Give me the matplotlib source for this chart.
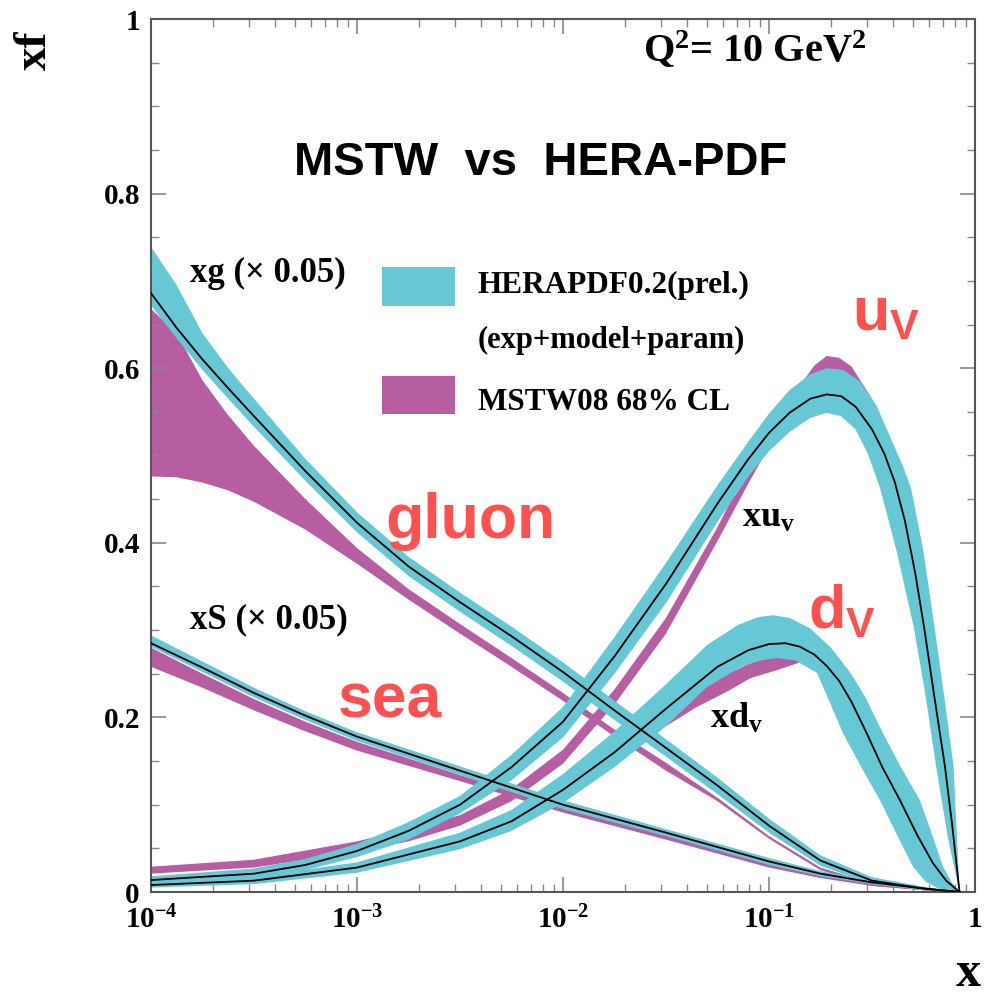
import matplotlib
matplotlib.use("Agg")
import matplotlib.pyplot as plt
from matplotlib.patches import Rectangle
import numpy as np

plt.rcParams["font.family"] = ["Liberation Serif", "DejaVu Serif"]
plt.rcParams["font.weight"] = "bold"
plt.rcParams["mathtext.fontset"] = "custom"
plt.rcParams["mathtext.rm"] = "Liberation Serif:bold"
plt.rcParams["mathtext.it"] = "Liberation Serif:bold"
plt.rcParams["mathtext.bf"] = "Liberation Serif:bold"
plt.rcParams["mathtext.sf"] = "Liberation Sans:bold"
plt.rcParams["mathtext.default"] = "rm"

# ---- data: log10(x) grids and xf values ----
# gluon (x 0.05)
g_logx = [-4, -3.875, -3.75, -3.625, -3.5, -3.25, -3, -2.75, -2.5, -2.25, -2, -1.75, -1.5, -1.25, -1,
          -0.75, -0.5, -0.25, -0.075]
g_hera = [0.686, 0.646, 0.610, 0.577, 0.545, 0.482, 0.423, 0.373, 0.332, 0.293, 0.252, 0.208, 0.165, 0.122, 0.076,
          0.036, 0.013, 0.004, 0.0]
g_hera_hi = [0.739, 0.695, 0.640, 0.600, 0.565, 0.496, 0.435, 0.384, 0.343, 0.304, 0.263, 0.219, 0.175, 0.131, 0.084,
             0.042, 0.017, 0.006, 0.0]
g_hera_lo = [0.672, 0.634, 0.598, 0.565, 0.533, 0.471, 0.412, 0.362, 0.321, 0.282, 0.241, 0.197, 0.155, 0.112, 0.068,
             0.030, 0.009, 0.002, 0.0]
g_mstw_hi = [0.668, 0.640, 0.586, 0.546, 0.511, 0.450, 0.394, 0.347, 0.307, 0.268, 0.228, 0.186, 0.148, 0.108, 0.064,
             0.028, 0.010, 0.003, 0.0]
g_mstw_lo = [0.476, 0.475, 0.469, 0.460, 0.447, 0.415, 0.376, 0.335, 0.296, 0.258, 0.219, 0.178, 0.139, 0.104, 0.061,
             0.025, 0.007, 0.002, 0.0]

# sea (x 0.05)
s_logx = [-4, -3.75, -3.5, -3.25, -3, -2.5, -2, -1.5, -1, -0.75, -0.5, -0.25, -0.075]
s_hera = [0.285, 0.257, 0.228, 0.202, 0.178, 0.139, 0.100, 0.068, 0.035, 0.021, 0.011, 0.004, 0.0]
s_hera_hi = [0.294, 0.264, 0.234, 0.207, 0.183, 0.144, 0.105, 0.072, 0.039, 0.024, 0.013, 0.005, 0.0]
s_hera_lo = [0.281, 0.252, 0.223, 0.197, 0.173, 0.134, 0.095, 0.064, 0.031, 0.018, 0.009, 0.003, 0.0]
s_mstw_hi = [0.280, 0.250, 0.221, 0.195, 0.172, 0.134, 0.097, 0.066, 0.033, 0.020, 0.010, 0.003, 0.0]
s_mstw_lo = [0.258, 0.234, 0.208, 0.184, 0.162, 0.127, 0.091, 0.060, 0.028, 0.016, 0.007, 0.002, 0.0]

# u valence
u_logx = [-4, -3.5, -3.25, -3, -2.75, -2.5, -2.25, -2, -1.75, -1.5, -1.25, -1.1, -1.0, -0.9, -0.8, -0.72,
          -0.65, -0.58, -0.5, -0.44, -0.39, -0.34, -0.29, -0.247, -0.2, -0.146, -0.11, -0.075]
u_hera = [0.0137, 0.021, 0.031, 0.047, 0.070, 0.100, 0.143, 0.195, 0.270, 0.353, 0.445, 0.496, 0.526, 0.549, 0.565, 0.570,
          0.568, 0.556, 0.530, 0.502, 0.470, 0.425, 0.365, 0.303, 0.228, 0.144, 0.075, 0.0]
# outer edge (above on the rise, right of the line on the fall)
u_out_logx = [-4, -3.5, -3.25, -3, -2.75, -2.5, -2.25, -2, -1.75, -1.5, -1.25, -1.1, -1.0, -0.9, -0.8, -0.72,
              -0.64, -0.56, -0.48, -0.4, -0.35, -0.31, -0.25, -0.196, -0.15, -0.104, -0.075]
u_out = [0.018, 0.027, 0.038, 0.055, 0.080, 0.110, 0.157, 0.212, 0.292, 0.377, 0.466, 0.516, 0.548, 0.575, 0.593, 0.600,
         0.598, 0.585, 0.558, 0.515, 0.488, 0.462, 0.390, 0.303, 0.225, 0.144, 0.0]
# inner edge (below on the rise, left of the line on the fall)
u_in_logx = [-4, -3.5, -3.25, -3, -2.75, -2.5, -2.25, -2, -1.75, -1.5, -1.25, -1.1, -1.0, -0.9, -0.8, -0.72,
             -0.65, -0.58, -0.52, -0.46, -0.38, -0.297, -0.24, -0.189, -0.13, -0.075]
u_in = [0.009, 0.016, 0.025, 0.040, 0.060, 0.090, 0.128, 0.177, 0.250, 0.331, 0.424, 0.476, 0.505, 0.527, 0.543, 0.549,
        0.545, 0.530, 0.502, 0.462, 0.390, 0.303, 0.225, 0.144, 0.060, 0.0]
um_logx = [-4, -3.5, -3, -2.75, -2.5, -2.25, -2, -1.75, -1.5, -1.25, -1.1, -1.0, -0.85, -0.78, -0.72, -0.66,
           -0.6, -0.5, -0.4, -0.3, -0.2, -0.12, -0.075]
u_mstw_hi = [0.029, 0.037, 0.058, 0.072, 0.088, 0.118, 0.163, 0.232, 0.314, 0.418, 0.488, 0.530, 0.580, 0.603, 0.614,
             0.612, 0.602, 0.565, 0.505, 0.420, 0.260, 0.110, 0.0]
u_mstw_lo = [0.021, 0.028, 0.046, 0.058, 0.076, 0.104, 0.147, 0.215, 0.296, 0.402, 0.468, 0.510, 0.550, 0.563, 0.570,
             0.568, 0.560, 0.525, 0.460, 0.360, 0.200, 0.070, 0.0]

# d valence
d_logx = [-4, -3.5, -3, -2.5, -2.25, -2, -1.75, -1.5, -1.25, -1.1, -1.0, -0.92, -0.85, -0.78, -0.72, -0.66,
          -0.6, -0.526, -0.45, -0.364, -0.28, -0.204, -0.14, -0.075]
d_hera = [0.008, 0.013, 0.028, 0.058, 0.081, 0.117, 0.160, 0.210, 0.258, 0.277, 0.284, 0.285, 0.281, 0.272, 0.259, 0.242,
          0.218, 0.182, 0.143, 0.105, 0.065, 0.033, 0.013, 0.0]
d_out_logx = [-4, -3.5, -3, -2.5, -2.25, -2, -1.75, -1.5, -1.3, -1.15, -1.05, -0.98, -0.9, -0.8, -0.7, -0.604,
              -0.53, -0.447, -0.36, -0.267, -0.2, -0.155, -0.11, -0.075]
d_out = [0.011, 0.017, 0.034, 0.068, 0.094, 0.135, 0.184, 0.238, 0.283, 0.306, 0.315, 0.317, 0.314, 0.302, 0.280, 0.251,
         0.222, 0.182, 0.143, 0.105, 0.060, 0.029, 0.010, 0.0]
d_in_logx = [-4, -3.5, -3, -2.5, -2.25, -2, -1.75, -1.5, -1.3, -1.15, -1.05, -0.96, -0.87, -0.767, -0.71, -0.641,
             -0.55, -0.461, -0.38, -0.301, -0.24, -0.17, -0.075]
d_in = [0.005, 0.009, 0.022, 0.049, 0.070, 0.102, 0.143, 0.190, 0.235, 0.256, 0.265, 0.268, 0.265, 0.251, 0.220, 0.182,
        0.142, 0.105, 0.066, 0.029, 0.012, 0.003, 0.0]
dm_logx = [-4, -3, -2.5, -2, -1.75, -1.5, -1.35, -1.2, -1.09, -0.95, -0.85, -0.75, -0.6, -0.45, -0.3, -0.2, -0.075]
d_mstw_hi = [0.009, 0.027, 0.056, 0.112, 0.155, 0.200, 0.228, 0.250, 0.262, 0.272, 0.271, 0.262, 0.215, 0.140, 0.065, 0.030, 0.0]
d_mstw_lo = [0.006, 0.023, 0.050, 0.104, 0.146, 0.190, 0.212, 0.230, 0.245, 0.255, 0.263, 0.250, 0.205, 0.130, 0.058, 0.025, 0.0]

x_ticks = [1e-4, 1e-3, 1e-2, 1e-1, 1]
x_ticklabels = [r"10$^{-4}$", r"10$^{-3}$", r"10$^{-2}$", r"10$^{-1}$", "1"]
y_ticks = [0, 0.2, 0.4, 0.6, 0.8, 1]
y_ticklabels = ["0", "0.2", "0.4", "0.6", "0.8", "1"]

HERA_C = "#66c8d4"
MSTW_C = "#b75da2"
RED = "#ff5050"


def band(ax, lx1, v1, lx2, v2, color, z):
    xs = np.concatenate([10 ** np.array(lx1, float), 10 ** np.array(lx2, float)[::-1]])
    ys = np.concatenate([np.array(v1, float), np.array(v2, float)[::-1]])
    ax.fill(xs, ys, color=color, lw=0, zorder=z)


W, H = 986, 996
fig = plt.figure(figsize=(W / 100, H / 100), dpi=100)
ax = fig.add_axes([151 / W, 1 - 892 / H, (975 - 151) / W, (892 - 19) / H])
ax.set_xscale("log")
ax.set_xlim(1e-4, 1)
ax.set_ylim(0, 1)

# MSTW bands underneath
band(ax, g_logx, g_mstw_hi, g_logx, g_mstw_lo, MSTW_C, 1)
band(ax, s_logx, s_mstw_hi, s_logx, s_mstw_lo, MSTW_C, 1)
band(ax, um_logx, u_mstw_hi, um_logx, u_mstw_lo, MSTW_C, 1)
band(ax, dm_logx, d_mstw_hi, dm_logx, d_mstw_lo, MSTW_C, 1)

# HERA bands on top
band(ax, g_logx, g_hera_hi, g_logx, g_hera_lo, HERA_C, 2)
band(ax, s_logx, s_hera_hi, s_logx, s_hera_lo, HERA_C, 2)
band(ax, u_out_logx, u_out, u_in_logx, u_in, HERA_C, 2)
band(ax, d_out_logx, d_out, d_in_logx, d_in, HERA_C, 2)

for lx, v in [(g_logx, g_hera), (s_logx, s_hera), (u_logx, u_hera), (d_logx, d_hera)]:
    ax.plot(10 ** np.array(lx, float), v, color="black", lw=1.3, zorder=3)

# axes styling
for sp in ax.spines.values():
    sp.set_color("#555555")
    sp.set_linewidth(1.5)
ax.set_xticks(x_ticks)
ax.set_xticklabels(x_ticklabels)
ax.xaxis.set_minor_locator(matplotlib.ticker.LogLocator(base=10, subs=np.arange(2, 10)))
ax.xaxis.set_minor_formatter(matplotlib.ticker.NullFormatter())
ax.set_yticks(y_ticks)
ax.set_yticklabels(y_ticklabels)
ax.yaxis.set_minor_locator(matplotlib.ticker.MultipleLocator(0.05))
ax.tick_params(which="both", direction="in", top=True, right=True, color="#888888", labelsize=21)
ax.tick_params(which="major", length=11, width=1.2)
ax.tick_params(which="minor", length=5.5, width=1.0)
ax.tick_params(axis="y", pad=8)
ax.tick_params(axis="x", pad=10)


def ftext(px, py, s, **kw):
    fig.text(px / W, 1 - py / H, s, **kw)


# legend
ax.add_patch(Rectangle((382 / W, 1 - 306 / H), 73 / W, 39 / H, transform=fig.transFigure,
                       color=HERA_C, lw=0, zorder=5))
ax.add_patch(Rectangle((382 / W, 1 - 414 / H), 73 / W, 38 / H, transform=fig.transFigure,
                       color=MSTW_C, lw=0, zorder=5))
ftext(478, 293, "HERAPDF0.2(prel.)", fontsize=22.5, va="baseline")
ftext(478, 348, "(exp+model+param)", fontsize=22, va="baseline")
ftext(478, 410, "MSTW08 68% CL", fontsize=22.5, va="baseline")

# labels
ftext(541, 175, "MSTW  vs  HERA-PDF", fontsize=34, family="Liberation Sans",
      fontweight="bold", ha="center", va="baseline")
ftext(643, 62, r"Q$^2$= 10 GeV$^2$", fontsize=29, va="baseline")
ftext(190, 282, "xg (\u00d7 0.05)", fontsize=25, va="baseline")
ftext(190, 628, "xS (\u00d7 0.05)", fontsize=25, va="baseline")
ftext(742, 527, r"xu$_{\rm v}$", fontsize=26, va="baseline")
ftext(710, 728, r"xd$_{\rm v}$", fontsize=26, va="baseline")
ftext(385, 538, "gluon", fontsize=45, color=RED, family="Liberation Sans",
      fontweight="bold", va="baseline")
ftext(338, 718, "sea", fontsize=45, color=RED, family="Liberation Sans",
      fontweight="bold", va="baseline")
ftext(852, 330, r"$\mathsf{u_V}$", fontsize=44, color=RED, va="baseline")
ftext(808, 628, r"$\mathsf{d_V}$", fontsize=44, color=RED, va="baseline")

ftext(968, 974, "x", fontsize=36, ha="center", va="center")
ftext(35, 50, "xf", fontsize=34, rotation=90, ha="center", va="center")

fig.savefig("out.png", dpi=100)
